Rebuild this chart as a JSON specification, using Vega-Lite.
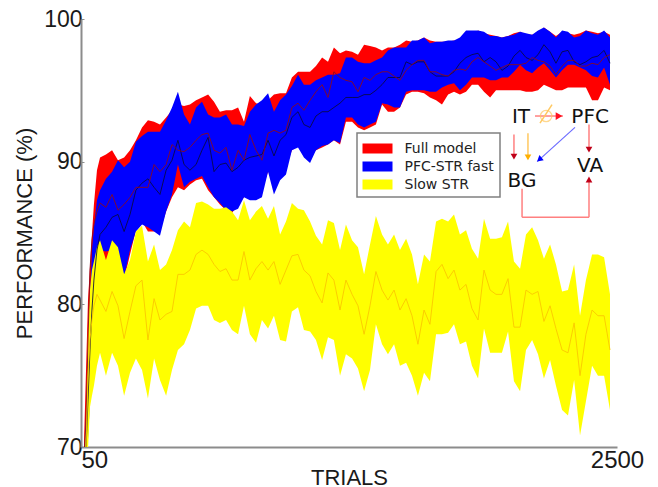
{"$schema":"https://vega.github.io/schema/vega-lite/v6.json","width":536,"height":428,"autosize":{"type":"none"},"padding":{"left":81,"top":19,"right":41,"bottom":40},"background":"white","config":{"view":{"stroke":null},"font":"Liberation Sans","legend":{"strokeWidth":1.5}},
"datasets":{"curves":[
{"x":64,"rl":69.1,"rh":70.5,"rm":69.4,"bl":68.4,"bh":69.1,"bm":68.7,"yl":68.4,"yh":68.4,"ym":68.4},
{"x":73,"rl":69.8,"rh":75.4,"rm":71.9,"bl":69.1,"bh":71.9,"bm":69.8,"yl":69.1,"yh":71.9,"ym":69.8},
{"x":82,"rl":73.3,"rh":80.3,"rm":77.5,"bl":70.5,"bh":76.8,"bm":73.3,"yl":69.8,"yh":78.2,"ym":74.9},
{"x":91,"rl":76.1,"rh":82.6,"rm":82.4,"bl":73.3,"bh":80.3,"bm":76.8,"yl":72.8,"yh":81.0,"ym":77.5},
{"x":100,"rl":78.9,"rh":84.9,"rm":84.5,"bl":78.2,"bh":83.8,"bm":79.6,"yl":73.6,"yh":82.4,"ym":78.9},
{"x":109,"rl":81.0,"rh":87.0,"rm":85.6,"bl":80.3,"bh":85.4,"bm":81.7,"yl":74.3,"yh":83.0,"ym":79.9},
{"x":123,"rl":82.4,"rh":89.4,"rm":86.5,"bl":83.6,"bh":87.3,"bm":83.8,"yl":75.7,"yh":84.0,"ym":80.7},
{"x":137,"rl":83.0,"rh":90.3,"rm":87.1,"bl":83.8,"bh":88.0,"bm":84.9,"yl":76.6,"yh":84.5,"ym":80.3},
{"x":164,"rl":82.8,"rh":90.5,"rm":86.8,"bl":83.7,"bh":88.8,"bm":85.4,"yl":75.0,"yh":83.1,"ym":79.5},
{"x":192,"rl":83.5,"rh":90.8,"rm":87.7,"bl":83.8,"bh":89.3,"bm":86.1,"yl":76.6,"yh":84.5,"ym":80.9},
{"x":219,"rl":81.7,"rh":90.1,"rm":86.6,"bl":83.0,"bh":90.1,"bm":86.3,"yl":75.7,"yh":84.0,"ym":79.9},
{"x":247,"rl":81.7,"rh":90.3,"rm":87.0,"bl":81.9,"bh":89.6,"bm":85.1,"yl":73.6,"yh":82.1,"ym":77.6},
{"x":274,"rl":83.5,"rh":90.8,"rm":87.5,"bl":83.8,"bh":90.0,"bm":86.3,"yl":75.2,"yh":83.1,"ym":79.5},
{"x":301,"rl":85.2,"rh":91.5,"rm":88.2,"bl":85.1,"bh":91.4,"bm":88.0,"yl":76.2,"yh":85.1,"ym":81.3},
{"x":329,"rl":85.8,"rh":92.4,"rm":88.2,"bl":85.6,"bh":91.8,"bm":88.5,"yl":75.4,"yh":85.5,"ym":81.7},
{"x":356,"rl":85.1,"rh":92.9,"rm":88.2,"bl":85.4,"bh":92.1,"bm":88.8,"yl":73.4,"yh":83.0,"ym":77.5},
{"x":384,"rl":85.1,"rh":92.8,"rm":89.8,"bl":85.1,"bh":92.1,"bm":88.2,"yl":76.2,"yh":84.2,"ym":80.4},
{"x":411,"rl":85.2,"rh":92.6,"rm":89.3,"bl":84.8,"bh":92.1,"bm":87.7,"yl":74.7,"yh":82.4,"ym":78.9},
{"x":439,"rl":86.5,"rh":93.1,"rm":89.8,"bl":86.5,"bh":92.9,"bm":89.4,"yl":73.6,"yh":82.8,"ym":79.3},
{"x":466,"rl":87.5,"rh":93.6,"rm":91.2,"bl":87.7,"bh":93.8,"bm":90.1,"yl":75.4,"yh":83.8,"ym":79.5},
{"x":493,"rl":88.2,"rh":94.0,"rm":90.8,"bl":89.8,"bh":94.9,"bm":91.5,"yl":76.8,"yh":85.2,"ym":82.1},
{"x":521,"rl":88.0,"rh":93.9,"rm":90.7,"bl":88.2,"bh":93.3,"bm":89.8,"yl":77.2,"yh":85.8,"ym":82.1},
{"x":548,"rl":88.4,"rh":94.0,"rm":91.0,"bl":88.6,"bh":92.6,"bm":89.4,"yl":78.2,"yh":85.4,"ym":82.4},
{"x":576,"rl":88.7,"rh":94.3,"rm":91.5,"bl":88.8,"bh":93.8,"bm":89.8,"yl":79.7,"yh":87.1,"ym":83.5},
{"x":603,"rl":88.8,"rh":94.5,"rm":91.9,"bl":89.0,"bh":94.2,"bm":90.8,"yl":79.9,"yh":87.2,"ym":83.8},
{"x":631,"rl":88.0,"rh":94.7,"rm":92.0,"bl":88.2,"bh":93.3,"bm":91.7,"yl":79.9,"yh":87.0,"ym":83.5},
{"x":658,"rl":87.5,"rh":94.2,"rm":90.8,"bl":87.5,"bh":93.1,"bm":89.3,"yl":78.9,"yh":86.7,"ym":82.8},
{"x":685,"rl":87.0,"rh":93.5,"rm":90.6,"bl":87.1,"bh":93.1,"bm":89.8,"yl":78.7,"yh":86.7,"ym":82.3},
{"x":713,"rl":86.6,"rh":93.6,"rm":91.0,"bl":86.6,"bh":93.3,"bm":89.9,"yl":78.9,"yh":86.8,"ym":82.5},
{"x":740,"rl":86.4,"rh":93.6,"rm":89.4,"bl":86.5,"bh":92.6,"bm":89.3,"yl":78.2,"yh":86.5,"ym":81.7},
{"x":768,"rl":87.0,"rh":93.8,"rm":90.8,"bl":86.7,"bh":92.6,"bm":89.6,"yl":77.9,"yh":85.9,"ym":81.7},
{"x":795,"rl":87.5,"rh":92.8,"rm":90.1,"bl":87.5,"bh":92.5,"bm":90.1,"yl":79.9,"yh":87.3,"ym":83.7},
{"x":822,"rl":87.7,"rh":94.6,"rm":91.9,"bl":87.3,"bh":93.5,"bm":90.3,"yl":77.9,"yh":85.9,"ym":81.7},
{"x":850,"rl":87.3,"rh":94.1,"rm":90.8,"bl":87.3,"bh":94.0,"bm":90.4,"yl":77.3,"yh":86.5,"ym":82.5},
{"x":877,"rl":88.0,"rh":94.0,"rm":90.1,"bl":87.5,"bh":94.3,"bm":90.5,"yl":78.9,"yh":86.9,"ym":83.0},
{"x":905,"rl":89.3,"rh":94.3,"rm":92.0,"bl":89.3,"bh":94.8,"bm":91.5,"yl":78.3,"yh":86.0,"ym":82.4},
{"x":932,"rl":88.8,"rh":94.7,"rm":92.2,"bl":87.7,"bh":93.5,"bm":90.4,"yl":79.2,"yh":86.9,"ym":83.0},
{"x":960,"rl":89.4,"rh":94.8,"rm":92.0,"bl":88.7,"bh":94.3,"bm":91.5,"yl":77.5,"yh":84.9,"ym":81.4},
{"x":987,"rl":89.6,"rh":94.8,"rm":92.2,"bl":89.1,"bh":94.7,"bm":91.9,"yl":77.4,"yh":85.8,"ym":82.4},
{"x":1014,"rl":90.8,"rh":95.9,"rm":93.8,"bl":90.8,"bh":95.3,"bm":93.1,"yl":79.5,"yh":87.1,"ym":83.4},
{"x":1042,"rl":91.1,"rh":96.3,"rm":94.1,"bl":91.0,"bh":96.1,"bm":93.5,"yl":79.8,"yh":86.7,"ym":83.5},
{"x":1069,"rl":90.8,"rh":96.3,"rm":93.6,"bl":90.3,"bh":95.4,"bm":92.6,"yl":78.2,"yh":86.6,"ym":82.4},
{"x":1097,"rl":90.4,"rh":96.3,"rm":94.3,"bl":89.9,"bh":95.4,"bm":92.4,"yl":78.1,"yh":85.8,"ym":82.0},
{"x":1124,"rl":90.8,"rh":96.7,"rm":94.9,"bl":90.8,"bh":95.7,"bm":93.2,"yl":77.5,"yh":84.8,"ym":80.9},
{"x":1152,"rl":91.0,"rh":97.3,"rm":95.4,"bl":91.1,"bh":95.9,"bm":93.5,"yl":76.1,"yh":84.2,"ym":80.1},
{"x":1179,"rl":91.2,"rh":97.0,"rm":94.5,"bl":91.2,"bh":96.1,"bm":93.5,"yl":77.7,"yh":85.9,"ym":82.2},
{"x":1206,"rl":91.5,"rh":98.0,"rm":96.3,"bl":91.5,"bh":96.1,"bm":93.8,"yl":77.5,"yh":85.7,"ym":81.7},
{"x":1234,"rl":91.2,"rh":97.6,"rm":95.9,"bl":91.3,"bh":96.2,"bm":94.1,"yl":75.0,"yh":83.8,"ym":79.6},
{"x":1261,"rl":92.8,"rh":97.8,"rm":95.7,"bl":93.1,"bh":97.3,"bm":94.5,"yl":76.5,"yh":85.6,"ym":81.7},
{"x":1289,"rl":92.8,"rh":97.7,"rm":95.6,"bl":93.1,"bh":97.3,"bm":94.5,"yl":76.2,"yh":84.5,"ym":80.7},
{"x":1316,"rl":92.4,"rh":97.5,"rm":94.9,"bl":92.6,"bh":97.0,"bm":94.5,"yl":75.5,"yh":84.0,"ym":79.9},
{"x":1344,"rl":92.2,"rh":98.2,"rm":95.9,"bl":92.4,"bh":96.9,"bm":94.7,"yl":73.9,"yh":82.1,"ym":77.9},
{"x":1371,"rl":92.4,"rh":98.1,"rm":95.7,"bl":92.6,"bh":96.9,"bm":94.7,"yl":75.4,"yh":84.2,"ym":79.9},
{"x":1398,"rl":92.6,"rh":98.0,"rm":96.1,"bl":92.8,"bh":97.1,"bm":95.0,"yl":78.6,"yh":86.2,"ym":82.3},
{"x":1426,"rl":94.0,"rh":97.8,"rm":96.3,"bl":94.1,"bh":97.3,"bm":95.4,"yl":77.2,"yh":84.9,"ym":81.0},
{"x":1453,"rl":93.5,"rh":98.0,"rm":96.3,"bl":94.0,"bh":97.8,"bm":95.9,"yl":76.5,"yh":84.2,"ym":80.3},
{"x":1481,"rl":93.5,"rh":98.0,"rm":96.0,"bl":93.8,"bh":98.0,"bm":95.9,"yl":77.2,"yh":84.9,"ym":81.0},
{"x":1508,"rl":93.8,"rh":98.2,"rm":95.7,"bl":93.8,"bh":98.0,"bm":95.9,"yl":75.7,"yh":83.8,"ym":79.6},
{"x":1536,"rl":94.7,"rh":98.5,"rm":96.4,"bl":94.9,"bh":98.0,"bm":97.0,"yl":75.9,"yh":84.6,"ym":80.4},
{"x":1563,"rl":94.9,"rh":98.4,"rm":96.8,"bl":95.0,"bh":98.5,"bm":96.8,"yl":75.0,"yh":83.5,"ym":79.2},
{"x":1590,"rl":94.9,"rh":98.5,"rm":97.1,"bl":95.0,"bh":98.5,"bm":97.0,"yl":73.6,"yh":81.4,"ym":77.2},
{"x":1618,"rl":94.8,"rh":98.7,"rm":97.1,"bl":95.0,"bh":98.7,"bm":97.0,"yl":75.2,"yh":83.5,"ym":79.6},
{"x":1645,"rl":94.5,"rh":98.5,"rm":96.3,"bl":94.9,"bh":98.3,"bm":96.3,"yl":74.6,"yh":83.0,"ym":78.6},
{"x":1673,"rl":94.3,"rh":98.4,"rm":96.3,"bl":94.9,"bh":98.4,"bm":96.0,"yl":77.9,"yh":85.8,"ym":82.3},
{"x":1700,"rl":94.0,"rh":98.4,"rm":96.1,"bl":95.2,"bh":98.4,"bm":96.0,"yl":77.9,"yh":86.0,"ym":82.8},
{"x":1728,"rl":94.7,"rh":98.4,"rm":96.0,"bl":95.4,"bh":98.5,"bm":96.0,"yl":78.0,"yh":85.8,"ym":81.8},
{"x":1755,"rl":94.9,"rh":98.5,"rm":96.4,"bl":95.5,"bh":98.5,"bm":96.3,"yl":78.6,"yh":86.3,"ym":82.4},
{"x":1782,"rl":94.7,"rh":98.5,"rm":96.5,"bl":95.0,"bh":98.7,"bm":96.9,"yl":77.2,"yh":84.9,"ym":81.0},
{"x":1810,"rl":94.9,"rh":98.7,"rm":96.4,"bl":95.4,"bh":99.2,"bm":97.3,"yl":77.4,"yh":85.2,"ym":81.4},
{"x":1837,"rl":95.4,"rh":98.9,"rm":97.0,"bl":95.9,"bh":99.2,"bm":97.5,"yl":75.7,"yh":83.9,"ym":79.7},
{"x":1865,"rl":95.4,"rh":99.2,"rm":97.3,"bl":95.9,"bh":99.2,"bm":97.6,"yl":74.8,"yh":83.2,"ym":78.9},
{"x":1892,"rl":94.9,"rh":99.0,"rm":97.0,"bl":95.9,"bh":99.1,"bm":97.0,"yl":78.3,"yh":86.0,"ym":82.4},
{"x":1920,"rl":94.5,"rh":98.9,"rm":96.7,"bl":95.7,"bh":98.8,"bm":97.3,"yl":76.6,"yh":84.6,"ym":81.0},
{"x":1947,"rl":95.0,"rh":98.8,"rm":96.4,"bl":95.7,"bh":98.8,"bm":97.0,"yl":76.6,"yh":84.6,"ym":80.7},
{"x":1974,"rl":95.0,"rh":98.7,"rm":96.6,"bl":95.9,"bh":98.7,"bm":96.4,"yl":76.6,"yh":84.7,"ym":80.7},
{"x":2002,"rl":95.0,"rh":98.8,"rm":96.8,"bl":95.9,"bh":98.8,"bm":96.7,"yl":78.1,"yh":85.8,"ym":81.8},
{"x":2029,"rl":95.0,"rh":99.0,"rm":96.8,"bl":96.3,"bh":98.9,"bm":97.4,"yl":74.6,"yh":83.0,"ym":78.4},
{"x":2057,"rl":95.0,"rh":99.1,"rm":96.8,"bl":96.8,"bh":99.1,"bm":97.8,"yl":73.9,"yh":82.5,"ym":78.4},
{"x":2084,"rl":94.9,"rh":98.9,"rm":96.9,"bl":96.4,"bh":99.0,"bm":97.3,"yl":76.8,"yh":84.9,"ym":81.0},
{"x":2112,"rl":94.9,"rh":98.9,"rm":97.3,"bl":96.2,"bh":98.9,"bm":97.1,"yl":77.5,"yh":85.4,"ym":80.7},
{"x":2139,"rl":95.0,"rh":99.0,"rm":97.1,"bl":96.6,"bh":99.2,"bm":97.5,"yl":76.5,"yh":84.5,"ym":80.9},
{"x":2166,"rl":95.4,"rh":99.4,"rm":97.0,"bl":96.9,"bh":99.4,"bm":98.2,"yl":74.8,"yh":83.2,"ym":78.8},
{"x":2194,"rl":95.2,"rh":99.1,"rm":96.7,"bl":96.4,"bh":99.1,"bm":97.7,"yl":76.1,"yh":84.2,"ym":79.9},
{"x":2221,"rl":95.0,"rh":98.8,"rm":96.1,"bl":95.9,"bh":98.7,"bm":96.9,"yl":74.3,"yh":82.8,"ym":78.3},
{"x":2249,"rl":95.0,"rh":99.1,"rm":96.7,"bl":96.4,"bh":99.2,"bm":97.7,"yl":72.6,"yh":80.9,"ym":76.8},
{"x":2276,"rl":95.2,"rh":99.0,"rm":97.1,"bl":96.8,"bh":99.1,"bm":97.8,"yl":72.2,"yh":81.0,"ym":76.6},
{"x":2304,"rl":95.2,"rh":98.9,"rm":97.1,"bl":96.8,"bh":98.7,"bm":97.0,"yl":74.7,"yh":82.8,"ym":78.7},
{"x":2331,"rl":95.2,"rh":99.0,"rm":96.7,"bl":96.6,"bh":98.8,"bm":96.8,"yl":70.8,"yh":79.2,"ym":75.0},
{"x":2358,"rl":95.2,"rh":99.2,"rm":96.7,"bl":96.4,"bh":99.2,"bm":97.0,"yl":73.2,"yh":81.7,"ym":77.9},
{"x":2386,"rl":94.3,"rh":99.1,"rm":96.9,"bl":96.0,"bh":99.0,"bm":97.3,"yl":75.7,"yh":83.5,"ym":79.6},
{"x":2413,"rl":94.3,"rh":99.0,"rm":96.8,"bl":95.9,"bh":98.9,"bm":97.4,"yl":75.0,"yh":83.5,"ym":79.2},
{"x":2441,"rl":95.2,"rh":99.1,"rm":97.3,"bl":96.6,"bh":99.2,"bm":97.8,"yl":75.0,"yh":83.3,"ym":79.2},
{"x":2468,"rl":95.0,"rh":98.9,"rm":97.5,"bl":95.4,"bh":98.7,"bm":96.9,"yl":72.6,"yh":80.7,"ym":76.8}
]},
"data":{"name":"curves"},
"layer":[
{"mark":{"type":"area","clip":true,"opacity":1},"encoding":{"x":{"field":"x","type":"quantitative","scale":{"domain":[50,2500],"nice":false,"zero":false},"axis":{"values":[50,2500],"format":"d","title":"TRIALS","domain":true,"domainColor":"#8c8c8c","domainWidth":2,"ticks":false,"grid":false,"labelFontSize":24,"labelColor":"#1a1a1a","labelPadding":1,"labelFlush":false,"labelOverlap":false,"labelAlign":{"condition":{"test":"datum.value==50","value":"left"},"value":"center"},"titleFontSize":22,"titleFontWeight":"normal","titleColor":"#1a1a1a","titleX":268,"titleY":37,"titleBaseline":"alphabetic"}},"y":{"field":"rl","type":"quantitative","scale":{"domain":[70,100],"nice":false,"zero":false},"axis":{"values":[70,80,90,100],"title":"PERFORMANCE (%)","domain":true,"domainColor":"#8c8c8c","domainWidth":2,"ticks":true,"tickSize":-3,"tickColor":"#8c8c8c","grid":false,"labelFontSize":23,"labelColor":"#1a1a1a","labelPadding":2,"titleFontSize":22,"titleFontWeight":"normal","titleColor":"#1a1a1a","titleX":-45,"titleY":214,"titleAnchor":"middle"}},"y2":{"field":"rh"},"fill":{"datum":"Full model","type":"nominal","scale":{"domain":["Full model","PFC-STR fast","Slow STR"],"range":["#ff0000","#0000ff","#ffff00"]},"legend":{"orient":"none","legendX":276,"legendY":114,"title":null,"fillColor":"white","strokeColor":"#808080","padding":5.5,"symbolType":"M-1.5,-0.5H1.5V0.5H-1.5Z","symbolSize":400,"symbolStrokeWidth":0,"symbolOpacity":1,"symbolOffset":5,"rowPadding":1,"labelFontSize":14,"labelFont":"DejaVu Sans","labelColor":"#222222","labelOffset":17,"labelLimit":200}}}},
{"mark":{"type":"area","clip":true,"opacity":1},"encoding":{"x":{"field":"x","type":"quantitative"},"y":{"field":"bl","type":"quantitative"},"y2":{"field":"bh"},"fill":{"datum":"PFC-STR fast","type":"nominal"}}},
{"mark":{"type":"area","clip":true,"opacity":1},"encoding":{"x":{"field":"x","type":"quantitative"},"y":{"field":"yl","type":"quantitative"},"y2":{"field":"yh"},"fill":{"datum":"Slow STR","type":"nominal"}}},
{"mark":{"type":"line","clip":true,"strokeWidth":1,"opacity":0.85},"encoding":{"x":{"field":"x","type":"quantitative"},"y":{"field":"bm","type":"quantitative"},"stroke":{"datum":"PFC-STR fast","type":"nominal","scale":{"domain":["Full model","PFC-STR fast","Slow STR"],"range":["#8a0a1e","#0a0a3c","#fbc800"]},"legend":{"orient":"none","legendX":276,"legendY":114,"title":null,"padding":5.5,"symbolType":"M-1.5,0H1.5","symbolSize":400,"symbolStrokeWidth":1,"symbolOffset":5,"rowPadding":1,"labelFontSize":14,"labelFont":"DejaVu Sans","labelColor":"transparent","labelOffset":17,"labelLimit":200}}}},
{"mark":{"type":"line","clip":true,"strokeWidth":1,"opacity":0.9},"encoding":{"x":{"field":"x","type":"quantitative"},"y":{"field":"rm","type":"quantitative"},"stroke":{"datum":"Full model","type":"nominal"}}},
{"mark":{"type":"line","clip":true,"strokeWidth":1,"opacity":0.9},"encoding":{"x":{"field":"x","type":"quantitative"},"y":{"field":"ym","type":"quantitative"},"stroke":{"datum":"Slow STR","type":"nominal"}}},
{"data":{"values":[{"a":2125,"b":2253,"c":93.2,"d":93.2},{"a":2029,"b":2029,"c":91.9,"d":90.3},{"a":2372,"b":2372,"c":92.6,"d":90.8},{"a":2066,"b":2066,"c":88.1,"d":86.1},{"a":2066,"b":2372,"c":86.1,"d":86.1},{"a":2372,"b":2372,"c":86.1,"d":88.7}]},"mark":{"type":"rule","stroke":"#ff8080","strokeWidth":1.5},"encoding":{"x":{"field":"a","type":"quantitative"},"x2":{"field":"b"},"y":{"field":"c","type":"quantitative"},"y2":{"field":"d"}}},
{"data":{"values":[{"a":2093,"b":2093,"c":92.0,"d":90.2},{"a":2148,"b":2203,"c":92.7,"d":94.0}]},"mark":{"type":"rule","stroke":"#ffc860","strokeWidth":1.5},"encoding":{"x":{"field":"a","type":"quantitative"},"x2":{"field":"b"},"y":{"field":"c","type":"quantitative"},"y2":{"field":"d"}}},
{"data":{"values":[{"a":2308,"b":2135,"c":92.4,"d":90.0}]},"mark":{"type":"rule","stroke":"#6c6cff","strokeWidth":1.2},"encoding":{"x":{"field":"a","type":"quantitative"},"x2":{"field":"b"},"y":{"field":"c","type":"quantitative"},"y2":{"field":"d"}}},
{"data":{"values":[{"a":2176,"c":93.2}]},"mark":{"type":"point","shape":"circle","size":130,"filled":false,"stroke":"#ffc860","strokeWidth":1.2},"encoding":{"x":{"field":"a","type":"quantitative"},"y":{"field":"c","type":"quantitative"}}},
{"data":{"values":[{"a":2029,"c":90.35},{"a":2372,"c":90.85}]},"mark":{"type":"point","shape":"triangle-down","size":45,"filled":true,"fill":"#c00018","opacity":1},"encoding":{"x":{"field":"a","type":"quantitative"},"y":{"field":"c","type":"quantitative"}}},
{"data":{"values":[{"a":2093,"c":90.3}]},"mark":{"type":"point","shape":"triangle-down","size":45,"filled":true,"fill":"#ffb000","opacity":1},"encoding":{"x":{"field":"a","type":"quantitative"},"y":{"field":"c","type":"quantitative"}}},
{"data":{"values":[{"a":2372,"c":88.75}]},"mark":{"type":"point","shape":"triangle-up","size":45,"filled":true,"fill":"#c00018","opacity":1},"encoding":{"x":{"field":"a","type":"quantitative"},"y":{"field":"c","type":"quantitative"}}},
{"data":{"values":[{"a":2235,"c":93.2}]},"mark":{"type":"point","shape":"triangle-right","size":60,"filled":true,"fill":"#ff1020","opacity":1},"encoding":{"x":{"field":"a","type":"quantitative"},"y":{"field":"c","type":"quantitative"}}},
{"data":{"values":[{"a":2145,"c":90.15}]},"mark":{"type":"point","shape":"triangle-up","angle":230,"size":45,"filled":true,"fill":"#0000ff","opacity":1},"encoding":{"x":{"field":"a","type":"quantitative"},"y":{"field":"c","type":"quantitative"}}},
{"data":{"values":[{"a":2061,"c":92.7,"t":"IT"},{"a":2377,"c":92.7,"t":"PFC"},{"a":2377,"c":89.3,"t":"VA"},{"a":2066,"c":88.2,"t":"BG"}]},"mark":{"type":"text","font":"DejaVu Sans","fontSize":20,"align":"center","baseline":"alphabetic","color":"#111111"},"encoding":{"x":{"field":"a","type":"quantitative"},"y":{"field":"c","type":"quantitative"},"text":{"field":"t"}}}
]}
